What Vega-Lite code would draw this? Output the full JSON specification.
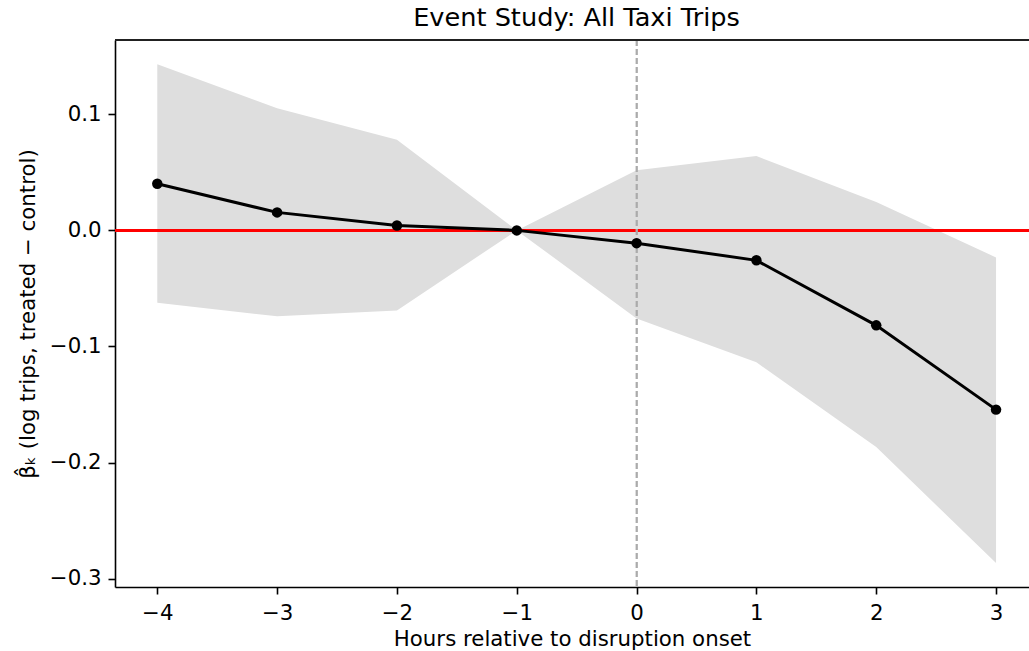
{
  "$schema": "https://vega.github.io/schema/vega-lite/v6.json",
  "autosize": "none",
  "width": 914,
  "height": 547,
  "padding": {"left": 115, "top": 40, "right": 0, "bottom": 64},
  "background": "white",
  "config": {
    "font": "DejaVu Sans",
    "view": {"stroke": null},
    "axis": {"grid": false, "domainColor": "black", "domainWidth": 1.6, "tickColor": "black", "tickWidth": 1.6, "tickSize": 7, "labelFontSize": 21.3, "labelColor": "black", "titleFontSize": 21.3, "titleFontWeight": "normal", "titleColor": "black", "labelFont": "DejaVu Sans", "titleFont": "DejaVu Sans"}
  },
  "title": {"text": "Event Study: All Taxi Trips", "fontSize": 25.6, "fontWeight": "normal", "font": "DejaVu Sans", "color": "black", "anchor": "middle", "dx": 4.5, "offset": 8},
  "data": {"values": [
    {"k": -4, "beta": 0.0402, "lo": -0.0623, "hi": 0.1432},
    {"k": -3, "beta": 0.0155, "lo": -0.074, "hi": 0.1053},
    {"k": -2, "beta": 0.0042, "lo": -0.069, "hi": 0.0781},
    {"k": -1, "beta": 0.0, "lo": 0.0, "hi": 0.0},
    {"k": 0, "beta": -0.011, "lo": -0.0758, "hi": 0.0517},
    {"k": 1, "beta": -0.0258, "lo": -0.1137, "hi": 0.064},
    {"k": 2, "beta": -0.0818, "lo": -0.1866, "hi": 0.0244},
    {"k": 3, "beta": -0.1544, "lo": -0.2866, "hi": -0.0233}
  ]},
  "encoding": {
    "x": {"field": "k", "type": "quantitative", "scale": {"domain": [-4.353, 3.275], "nice": false, "zero": false}, "axis": {"values": [-4, -3, -2, -1, 0, 1, 2, 3], "format": "d", "labelPadding": 8, "titlePadding": 5, "title": "Hours relative to disruption onset"}}
  },
  "layer": [
    {
      "mark": {"type": "area", "color": "#dedede", "opacity": 1},
      "encoding": {
        "y": {"field": "lo", "type": "quantitative", "scale": {"domain": [-0.3072, 0.164], "nice": false, "zero": false}, "axis": {"values": [-0.3, -0.2, -0.1, 0, 0.1], "format": ".1f", "labelPadding": 7, "titlePadding": 11, "title": "β̂ₖ (log trips, treated − control)"}},
        "y2": {"field": "hi"}
      }
    },
    {
      "mark": {"type": "rule", "color": "#ff0000", "strokeWidth": 2},
      "encoding": {"y": {"datum": 0}, "x": null}
    },
    {
      "mark": {"type": "rule", "color": "#ababab", "strokeWidth": 1.3, "strokeDash": [6, 3]},
      "encoding": {"x": {"datum": 0}}
    },
    {
      "mark": {"type": "rule", "color": "#222222", "strokeWidth": 1.6},
      "encoding": {"y": {"datum": 0.164}, "x": null}
    },
    {
      "mark": {"type": "line", "color": "black", "strokeWidth": 3},
      "encoding": {"y": {"field": "beta", "type": "quantitative"}}
    },
    {
      "mark": {"type": "point", "filled": true, "color": "black", "opacity": 1, "size": 110},
      "encoding": {"y": {"field": "beta", "type": "quantitative"}}
    }
  ]
}
